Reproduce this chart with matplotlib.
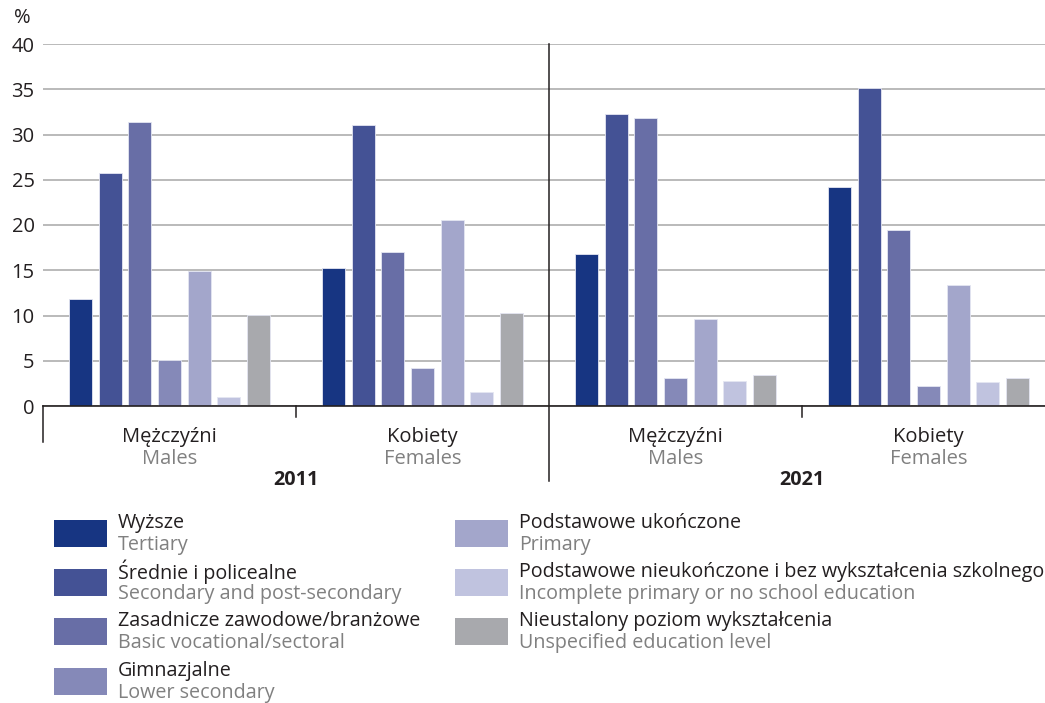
import matplotlib
matplotlib.use("Agg")
import matplotlib.pyplot as plt
from matplotlib.patches import Rectangle
import numpy as np

W, H = 1045, 703

groups_pl = ["Mężczyźni", "Kobiety", "Mężczyźni", "Kobiety"]
groups_en = ["Males", "Females", "Males", "Females"]
years = ["2011", "2021"]

levels_pl = ["Wyższe", "Średnie i policealne", "Zasadnicze zawodowe/branżowe", "Gimnazjalne",
             "Podstawowe ukończone", "Podstawowe nieukończone i bez wykształcenia szkolnego",
             "Nieustalony poziom wykształcenia"]
levels_en = ["Tertiary", "Secondary and post-secondary", "Basic vocational/sectoral", "Lower secondary",
             "Primary", "Incomplete primary or no school education", "Unspecified education level"]
colors = ["#173582", "#445295", "#686ea6", "#8589b8", "#a3a6cb", "#c0c3df", "#a8a9ad"]

# share of population (%) per education level, groups: 2011 M, 2011 K, 2021 M, 2021 K
tertiary = [11.8, 15.2, 16.8, 24.2]
secondary = [25.8, 31.0, 32.3, 35.1]
vocational = [31.4, 17.0, 31.8, 19.4]
lower_secondary = [5.1, 4.2, 3.1, 2.2]
primary = [14.9, 20.6, 9.6, 13.4]
incomplete = [1.0, 1.5, 2.8, 2.6]
unspecified = [10.1, 10.3, 3.4, 3.1]
series = [tertiary, secondary, vocational, lower_secondary, primary, incomplete, unspecified]

FONT = "Open Sans"
plt.rcParams["font.family"] = [FONT, "DejaVu Sans"]
FS_AX = 14.5
FS_LEG = 14.2

fig = plt.figure(figsize=(W / 100, H / 100), dpi=100)


def fx(x):
    return x / W


def fy(y):
    return 1 - y / H


ax_left, ax_right, ax_top, ax_bot = 43, 1045, 44, 406
ax = fig.add_axes([fx(ax_left), fy(ax_bot), fx(ax_right - ax_left), (ax_bot - ax_top) / H])

x = np.arange(len(groups_pl))
step, width = 0.117, 0.091
for k, (vals, col) in enumerate(zip(series, colors)):
    ax.bar(x + (k - 3) * step, vals, width=width, color=col, edgecolor="#e4e6f2", linewidth=0.6, zorder=3)

ax.set_xlim(-0.5, -0.5 + (ax_right - ax_left) / 253)
ax.set_ylim(0, 40)
ax.set_yticks(range(0, 41, 5))
ax.tick_params(axis="y", length=0, labelsize=FS_AX, colors="#231f20", pad=6)
ax.tick_params(axis="x", length=0, labelbottom=False)
ax.yaxis.grid(True, color="#b4b4b4", linewidth=1.3, zorder=0)
for s in ["top", "right", "left"]:
    ax.spines[s].set_visible(False)
ax.spines["bottom"].set_color("#231f20")
ax.spines["bottom"].set_linewidth(1.2)
ax.spines["bottom"].set_zorder(4)

hpx = ax_bot - ax_top
# group separators below the axis
ax.axvline(-0.5, ymin=-(442 - ax_bot) / hpx, ymax=0, color="#231f20", lw=1.1, clip_on=False)
ax.axvline(1.5, ymin=-(481 - ax_bot) / hpx, ymax=1, color="#231f20", lw=1.1, clip_on=False, zorder=4)
for xt in [0.5, 2.5]:
    ax.axvline(xt, ymin=-(417 - ax_bot) / hpx, ymax=0, color="#231f20", lw=1.1, clip_on=False)

fig.text(fx(22), fy(18), "%", fontsize=FS_AX, color="#231f20", ha="center", va="center")

for i in range(len(groups_pl)):
    ax.text(i, -(437 - ax_bot) / hpx, groups_pl[i], transform=ax.get_xaxis_transform(),
            ha="center", va="center", fontsize=FS_AX, color="#231f20")
    ax.text(i, -(459 - ax_bot) / hpx, groups_en[i], transform=ax.get_xaxis_transform(),
            ha="center", va="center", fontsize=FS_AX, color="#808080")
for j, yr in enumerate(years):
    ax.text(0.5 + 2 * j, -(480 - ax_bot) / hpx, yr, transform=ax.get_xaxis_transform(),
            ha="center", va="center", fontsize=FS_LEG, fontweight="bold", color="#231f20")

# legend in two columns
rows_y = [534, 583, 632, 682]
cols_x = [54, 455]
for k in range(len(levels_pl)):
    col = 0 if k < 4 else 1
    row = k if k < 4 else k - 4
    px0, py0 = cols_x[col], rows_y[row]
    fig.add_artist(Rectangle((fx(px0), fy(py0 + 13)), fx(53), 27 / H, transform=fig.transFigure,
                             facecolor=colors[k], edgecolor="none"))
    fig.text(fx(px0 + 64), fy(py0 - 11), levels_pl[k], fontsize=FS_LEG, color="#231f20", ha="left", va="center")
    fig.text(fx(px0 + 64), fy(py0 + 11), levels_en[k], fontsize=FS_LEG, color="#808080", ha="left", va="center")

fig.savefig("out.png", dpi=100)
